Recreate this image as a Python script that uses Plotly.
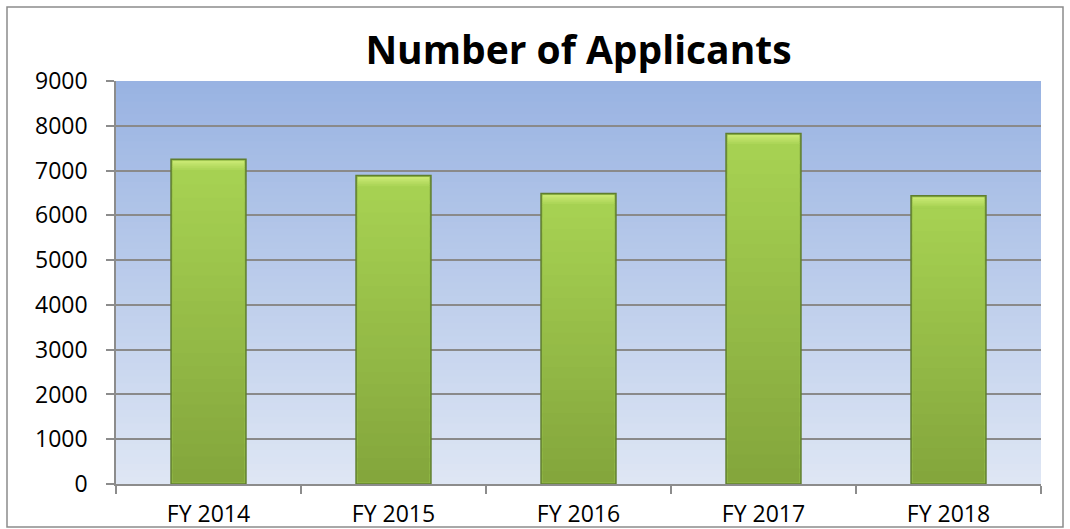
import plotly.graph_objects as go

categories = ["FY 2014", "FY 2015", "FY 2016", "FY 2017", "FY 2018"]
applicants = [7250, 6890, 6490, 7830, 6440]
y_ticks = [0, 1000, 2000, 3000, 4000, 5000, 6000, 7000, 8000, 9000]

W, H = 1070, 529
L, R, T, B = 116, 29, 81, 45
pw, ph = W - L - R, H - T - B
YMAX = 9000
BAR_W = 0.405

fig = go.Figure()
fig.add_trace(go.Bar(
    x=categories, y=applicants,
    marker=dict(color="#95BD48", line=dict(color="#5F7E2E", width=1.5)),
    width=BAR_W,
))


def mix(a, b, t):
    return tuple(round(a[k] + (b[k] - a[k]) * t) for k in range(3))


def rgb(c):
    return "rgb(%d,%d,%d)" % c


shapes = []
# vertical gradient background in plot area
n = 60
top = (0x99, 0xB3, 0xE2)
bot = (0xDE, 0xE6, 0xF4)
for i in range(n):
    c = mix(top, bot, i / (n - 1))
    shapes.append(dict(type="rect", xref="x domain", yref="y domain",
                       x0=0, x1=1, y0=max(0, 1 - (i + 1.6) / n), y1=1 - i / n,
                       fillcolor=rgb(c), line=dict(width=0), layer="below"))

# shading inside each bar (positions derived from the data through the axes)
upx = YMAX / ph            # data units per pixel
hx = BAR_W / 2 - 1.6 / pw * 5  # inset ~1.6px (category width = pw/5 px)
hi = (0xC8, 0xE8, 0x72)
tc = (0xA6, 0xD1, 0x52)
bc = (0x84, 0xA6, 0x3C)
for idx, v in enumerate(applicants):
    ytop = v - 1.5 * upx
    ybot = 1.5 * upx
    # bevel highlight at top
    nb = 6
    band = 11 * upx
    for j in range(nb):
        y1 = ytop - band * j / nb
        y0 = ytop - band * (j + 1.4) / nb
        shapes.append(dict(type="rect", xref="x", yref="y",
                           x0=idx - hx, x1=idx + hx, y0=y0, y1=y1,
                           fillcolor=rgb(mix(hi, tc, j / (nb - 1))),
                           line=dict(width=0), layer="above"))
    body_top = ytop - band
    m = 24
    for j in range(m):
        y1 = body_top - (body_top - ybot) * j / m
        y0 = max(ybot, body_top - (body_top - ybot) * (j + 1.3) / m)
        shapes.append(dict(type="rect", xref="x", yref="y",
                           x0=idx - hx, x1=idx + hx, y0=y0, y1=y1,
                           fillcolor=rgb(mix(tc, bc, j / (m - 1))),
                           line=dict(width=0), layer="above"))

# outer frame
px = lambda x: (x - L) / pw
py = lambda y: (H - B - y) / ph
shapes.append(dict(type="rect", xref="paper", yref="paper",
                   x0=px(7), x1=px(1063), y0=py(527), y1=py(7),
                   line=dict(color="#8C8C8C", width=1.5), fillcolor="rgba(0,0,0,0)", layer="above"))

fig.update_layout(
    width=W, height=H,
    margin=dict(l=L, r=R, t=T, b=B, autoexpand=False),
    paper_bgcolor="white", plot_bgcolor="rgba(0,0,0,0)",
    shapes=shapes,
    showlegend=False,
    title=dict(text="<b>Number of Applicants</b>", x=0.5, xref="paper", xanchor="center",
               y=1 - 50 / H, yanchor="middle",
               font=dict(family="Open Sans", size=39, color="black")),
    font=dict(family="Open Sans", size=23, color="black"),
    xaxis=dict(showline=True, linecolor="#8C8C8C", linewidth=1.5, automargin=False,
               ticks="outside", tickson="boundaries", ticklen=8, tickcolor="#8C8C8C",
               tickwidth=1.5, showgrid=False, ticklabelstandoff=9,
               tickfont=dict(size=23)),
    yaxis=dict(range=[0, YMAX], tickvals=y_ticks, showline=True, linecolor="#8C8C8C",
               linewidth=1.5, ticks="outside", ticklen=8, tickcolor="#8C8C8C", tickwidth=1.5,
               showgrid=True, gridcolor="#8A8A8A", gridwidth=1.5, zeroline=False,
               automargin=False, ticklabelstandoff=14, tickfont=dict(size=23)),
)

fig.write_html("out.html", config={"displayModeBar": False},
               post_script="document.body.style.margin='0';")
